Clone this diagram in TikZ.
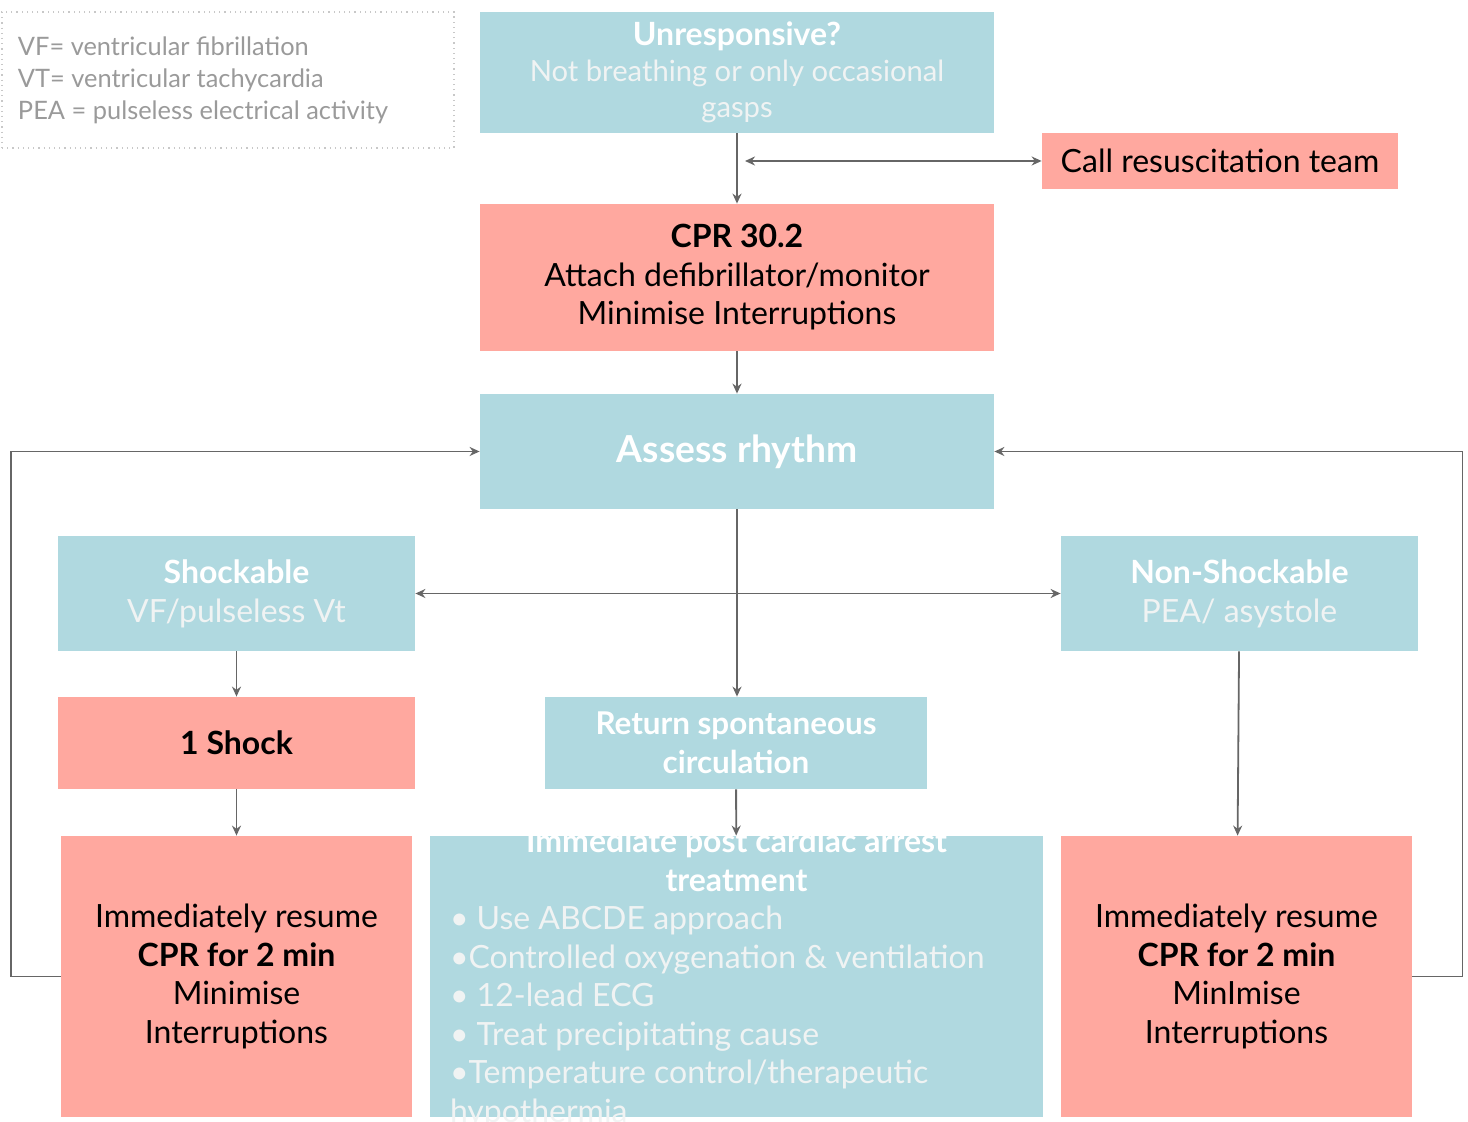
\documentclass[tikz,border=0pt]{standalone}
\usepackage{fontspec}
\setmainfont{Lato}
\usetikzlibrary{positioning,calc,arrows.meta}

\definecolor{boxblue}{HTML}{B0D9E0}
\definecolor{boxred}{HTML}{FFA89F}
\definecolor{linegray}{HTML}{666666}
\definecolor{softtext}{HTML}{F0F3F3}
\definecolor{legendtext}{HTML}{9A9A9A}
\definecolor{legendline}{HTML}{C8C8C8}

\begin{document}
\begin{tikzpicture}[x=0.5pt, y=-0.5pt]
	\begin{scope}
		\tikzstyle{every node}=[align=center, inner sep=0pt]
		\tikzstyle{bluebox}=[rectangle, fill=boxblue, text=softtext, font=\fontsize{16}{19.5}\selectfont]
		\tikzstyle{redbox}=[rectangle, fill=boxred, text=black, font=\fontsize{16}{19.25}\selectfont]
		\tikzstyle{arr}=[draw=linegray, line width=0.9pt, -{Stealth[length=5pt, width=4.5pt]}]
		\tikzstyle{dblarr}=[draw=linegray, line width=0.9pt, {Stealth[length=5pt, width=4.5pt]}-{Stealth[length=5pt, width=4.5pt]}]
		\useasboundingbox (0,0) rectangle (1468,1122);

		\node [draw=legendline, dotted, line width=0.6pt, minimum width=226pt, minimum height=68pt, text width=210pt, align=flush left, text=legendtext, font=\fontsize{12.7}{16}\selectfont] (legend) at (228,80) {VF= ventricular fibrillation\\VT= ventricular tachycardia\\PEA = pulseless electrical activity};

		\node [bluebox, minimum width=257pt, minimum height=60.5pt, font=\fontsize{14.6}{18}\selectfont] (unresp) at (737,72.5) {\textcolor{white}{\fontsize{16}{18}\selectfont\bfseries Unresponsive?}\\Not breathing or only occasional\\gasps};
		\node [redbox, minimum width=178pt, minimum height=28pt] (call) at (1220,161) {Call resuscitation team};
		\coordinate (callfrom) at (745,161);
		\node [redbox, minimum width=257pt, minimum height=73.5pt] (cpr) at (737,277.5) {\textbf{CPR 30.2}\\Attach defibrillator/monitor\\Minimise Interruptions};
		\node [bluebox, minimum width=257pt, minimum height=57.5pt, text=white, font=\fontsize{18.6}{22}\selectfont\bfseries] (assess) at (737,451.5) {Assess rhythm};

		\node [bluebox, minimum width=178.5pt, minimum height=57.5pt] (shock) at (236.5,593.5) {\textcolor{white}{\bfseries Shockable}\\VF/pulseless Vt};
		\node [bluebox, minimum width=178.5pt, minimum height=57.5pt] (nonshock) at (1239.5,593.5) {\textcolor{white}{\bfseries Non-Shockable}\\PEA/ asystole};

		\node [redbox, minimum width=178.5pt, minimum height=46pt, font=\fontsize{16}{19}\selectfont\bfseries] (oneshock) at (236.5,743) {1 Shock};
		\node [bluebox, minimum width=191pt, minimum height=46pt, text=white, font=\fontsize{15.7}{19.5}\selectfont\bfseries] (rosc) at (736,743) {Return spontaneous\\circulation};

		\node [redbox, minimum width=175.5pt, minimum height=140.5pt] (resumeL) at (236.5,976.5) {Immediately resume\\\textbf{CPR for 2 min}\\Minimise\\Interruptions};
		\node [bluebox, minimum width=306.5pt, minimum height=140.5pt] (post) at (736.5,976.5) {};
		\node [text=softtext, text width=286.5pt, align=flush left, font=\fontsize{16}{19.25}\selectfont] (posttext) at ([yshift=-1pt]post.center) {\makebox[\linewidth][c]{\textcolor{white}{\bfseries Immediate post cardiac arrest}}\\\makebox[\linewidth][c]{\textcolor{white}{\bfseries treatment}}\\• Use ABCDE approach\\•Controlled oxygenation \& ventilation\\• 12-lead ECG\\• Treat precipitating cause\\•Temperature control/therapeutic\\hypothermia};
		\node [redbox, minimum width=175.5pt, minimum height=140.5pt] (resumeR) at (1236.5,976.5) {Immediately resume\\\textbf{CPR for 2 min}\\MinImise\\Interruptions};

		\draw [arr] (unresp) to (cpr);
		\draw [dblarr] (callfrom) to (call);
		\draw [arr] (cpr) to (assess);
		\draw [arr] (assess.south) to (assess.south |- rosc.north);
		\draw [dblarr] (shock) to (nonshock);
		\draw [arr] (shock) to (oneshock);
		\draw [arr] (oneshock) to (resumeL);
		\draw [arr] (rosc) to (post);
		\draw [arr] (nonshock) to (resumeR);
		\draw [arr] (resumeL.west) -- ++(-50,0) |- (assess.west);
		\draw [arr] (resumeR.east) -- ++(50,0) |- (assess.east);
	\end{scope}
\end{tikzpicture}
\end{document}
